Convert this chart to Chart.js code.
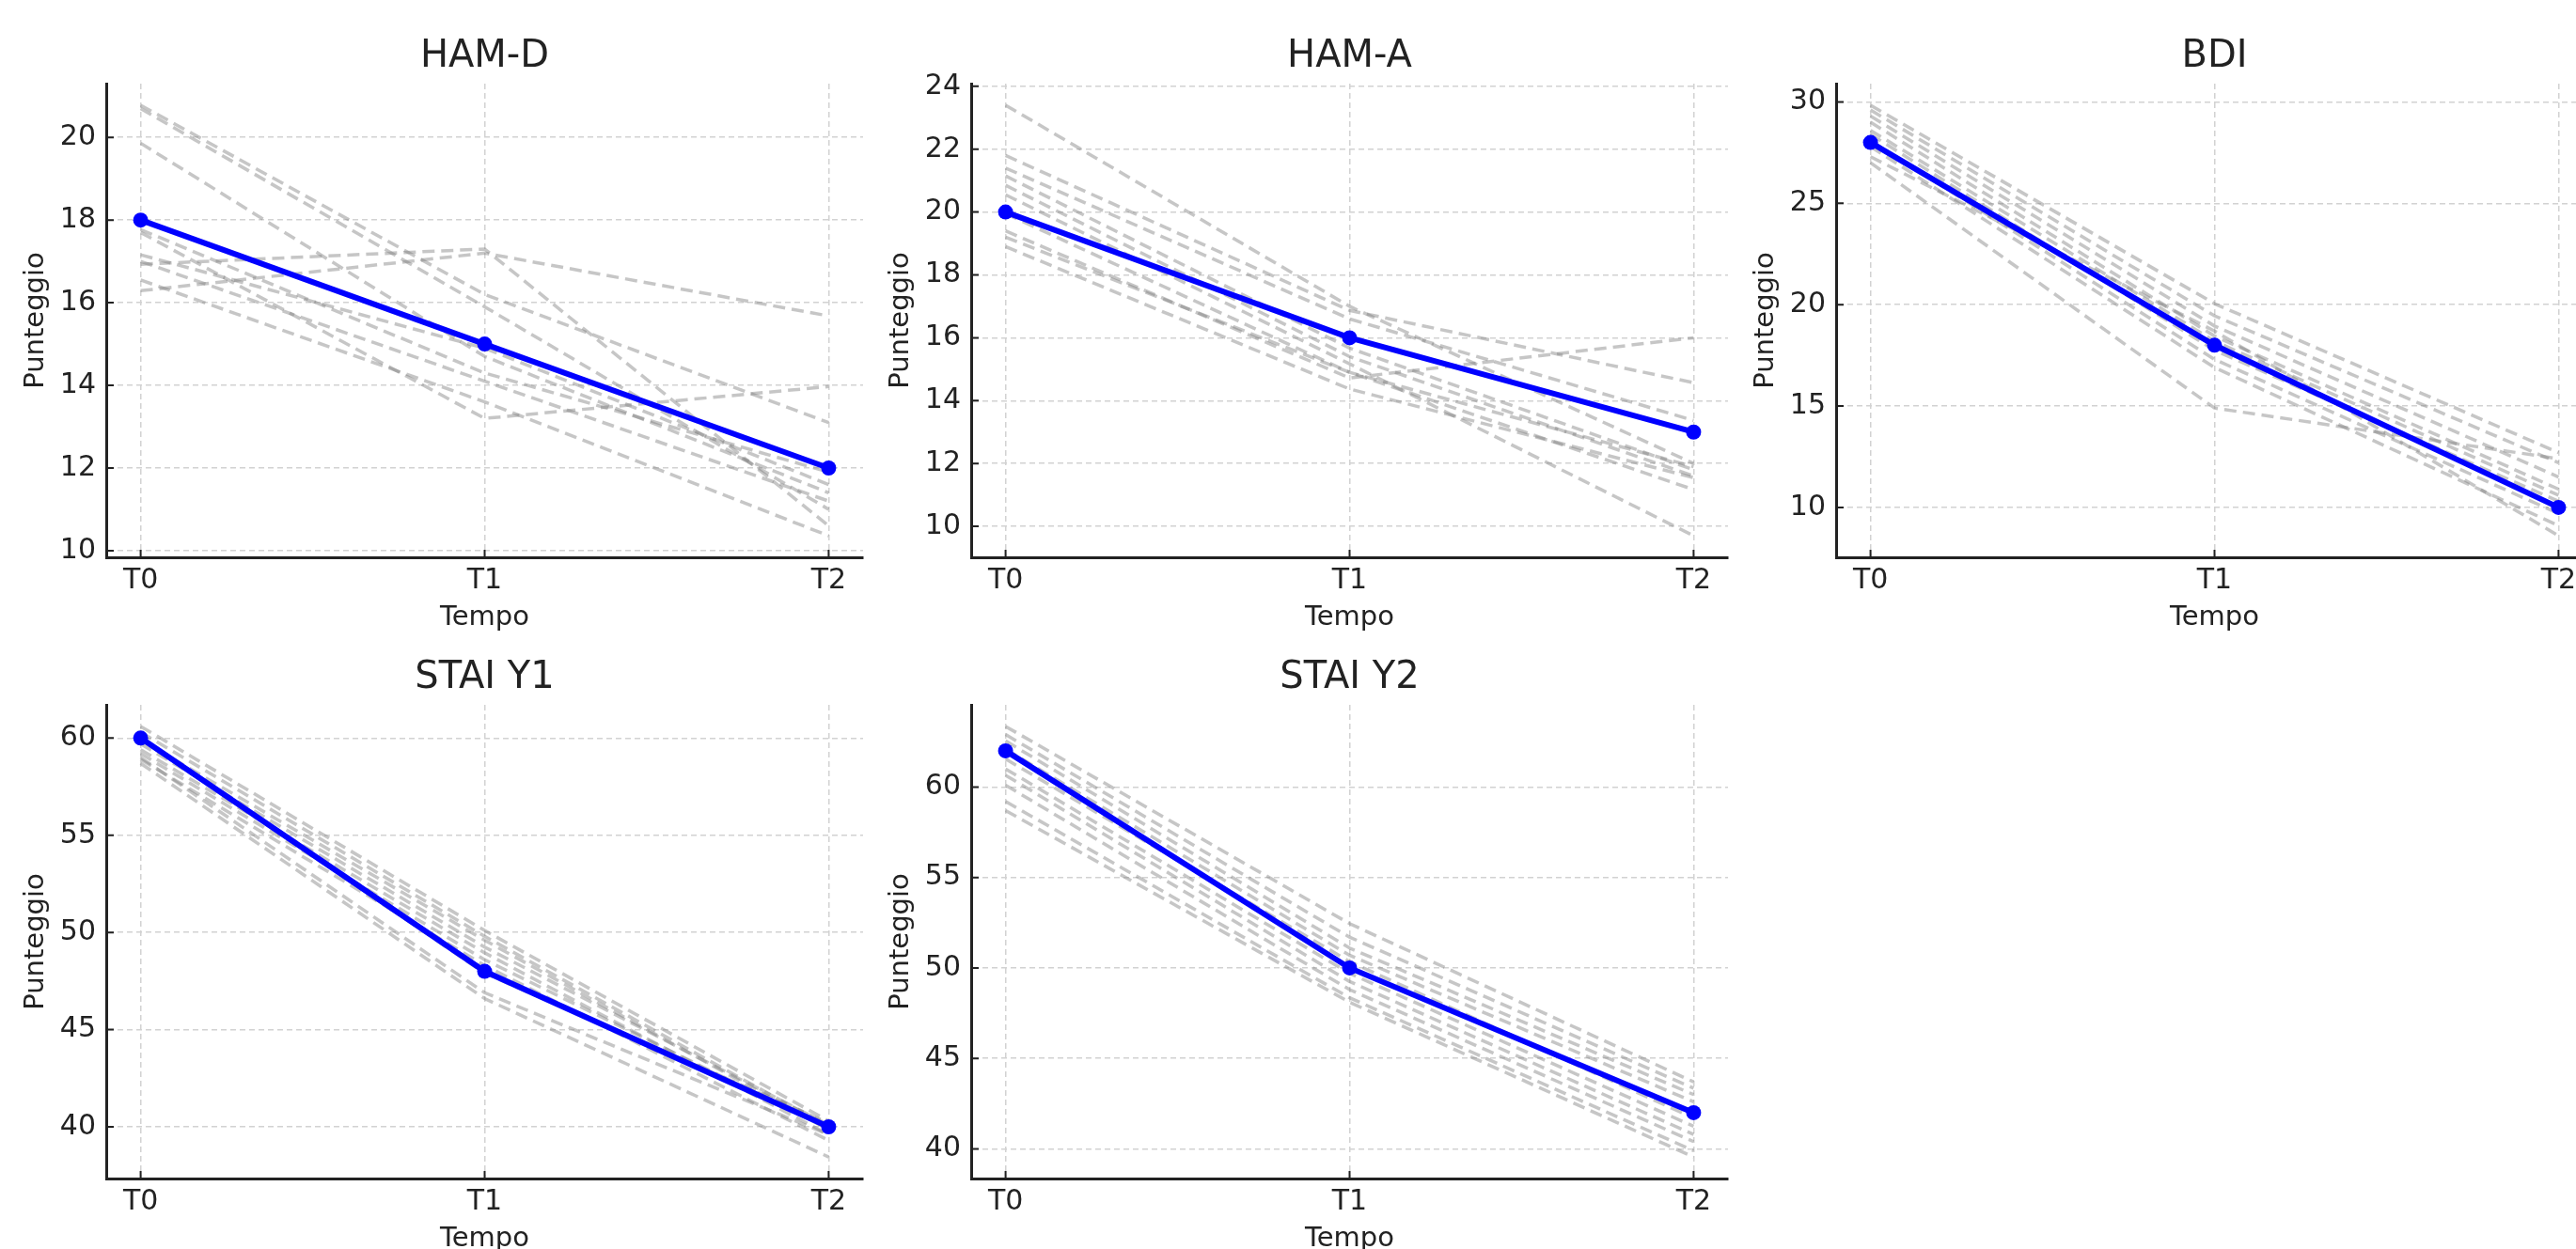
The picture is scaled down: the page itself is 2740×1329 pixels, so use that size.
<!DOCTYPE html>
<html>
<head>
<meta charset="utf-8">
<script src="https://cdn.jsdelivr.net/npm/chart.js"></script>
<style>
  html, body { margin: 0; padding: 0; background: #fff; overflow: hidden; width: 2740px; height: 1329px; position: relative; }
  canvas { position: absolute; }
</style>
</head>
<body>
<canvas id="hamd" width="926" height="700" style="left:0px;top:0px"></canvas>
<canvas id="hama" width="926" height="700" style="left:920px;top:0px"></canvas>
<canvas id="bdi" width="926" height="700" style="left:1840px;top:0px"></canvas>
<canvas id="stai1" width="926" height="700" style="left:0px;top:661px"></canvas>
<canvas id="stai2" width="926" height="700" style="left:920px;top:661px"></canvas>
<script>
// time points on the x axis
const timepoints = ['T0', 'T1', 'T2'];

// HAM-D
const hamdMean = [18, 15, 12];
const hamdSubjects = [
  [20.78, 16.2, 13.1],
  [20.7, 15.9, 11.0],
  [19.86, 14.7, 11.4],
  [17.77, 14.3, 11.9],
  [17.7, 13.2, 13.97],
  [17.16, 14.9, 11.6],
  [16.93, 17.3, 10.6],
  [16.55, 13.6, 10.36],
  [16.29, 17.2, 15.68],
  [17.0, 14.1, 11.2]
];
const hamdTicks = [10, 12, 14, 16, 18, 20];

// HAM-A
const hamaMean = [20, 16, 13];
const hamaSubjects = [
  [23.4, 17.0, 12.0],
  [21.8, 16.87, 14.57],
  [21.4, 16.6, 13.37],
  [21.15, 15.67, 11.8],
  [20.85, 15.4, 11.6],
  [20.55, 15.17, 9.7],
  [19.95, 14.9, 11.9],
  [19.4, 14.72, 16.0],
  [19.2, 14.9, 11.17],
  [18.9, 14.37, 11.55]
];
const hamaTicks = [10, 12, 14, 16, 18, 20, 22, 24];

// BDI
const bdiMean = [28, 18, 10];
const bdiSubjects = [
  [29.84, 20.05, 12.7],
  [29.6, 19.45, 12.2],
  [29.3, 18.95, 11.5],
  [29.0, 18.45, 10.9],
  [28.6, 18.2, 10.6],
  [28.4, 17.75, 10.3],
  [28.1, 17.3, 9.7],
  [27.8, 16.9, 9.1],
  [27.3, 18.7, 8.6],
  [27.0, 14.9, 12.4]
];
const bdiTicks = [10, 15, 20, 25, 30];

// STAI Y1
const stai1Mean = [60, 48, 40];
const stai1Subjects = [
  [60.6, 50.1, 40.3],
  [60.3, 49.8, 40.0],
  [59.9, 49.6, 39.85],
  [59.7, 49.25, 40.1],
  [59.4, 48.95, 39.6],
  [59.2, 48.6, 39.9],
  [59.0, 46.9, 39.6],
  [58.9, 48.3, 39.3],
  [58.7, 46.6, 38.45],
  [60.0, 47.9, 40.2]
];
const stai1Ticks = [40, 45, 50, 55, 60];

// STAI Y2
const stai2Mean = [62, 50, 42];
const stai2Subjects = [
  [63.35, 52.45, 43.7],
  [62.9, 51.7, 43.35],
  [62.55, 51.1, 43.0],
  [62.1, 50.7, 42.6],
  [61.55, 50.35, 41.7],
  [61.0, 49.7, 41.25],
  [60.65, 49.25, 40.8],
  [60.1, 48.8, 40.4],
  [59.2, 48.35, 39.9],
  [58.7, 48.1, 39.55]
];
const stai2Ticks = [40, 45, 50, 55, 60];

const panels = [
  { id: 'hamd', title: 'HAM-D', mean: hamdMean, subjects: hamdSubjects, ticks: hamdTicks },
  { id: 'hama', title: 'HAM-A', mean: hamaMean, subjects: hamaSubjects, ticks: hamaTicks },
  { id: 'bdi', title: 'BDI', mean: bdiMean, subjects: bdiSubjects, ticks: bdiTicks },
  { id: 'stai1', title: 'STAI Y1', mean: stai1Mean, subjects: stai1Subjects, ticks: stai1Ticks },
  { id: 'stai2', title: 'STAI Y2', mean: stai2Mean, subjects: stai2Subjects, ticks: stai2Ticks }
];

Chart.defaults.font.family = '"DejaVu Sans", sans-serif';
const textColor = '#222222';

// small tick marks pointing into the plot, like the original
const innerTicks = {
  id: 'innerTicks',
  afterDraw(chart) {
    const { ctx, chartArea: a, scales: { x, y } } = chart;
    ctx.save();
    ctx.strokeStyle = textColor;
    ctx.lineWidth = 2;
    ctx.beginPath();
    x.ticks.forEach(t => {
      const px = x.getPixelForValue(t.value);
      ctx.moveTo(px, a.bottom);
      ctx.lineTo(px, a.bottom - 8);
    });
    y.ticks.forEach(t => {
      const py = y.getPixelForValue(t.value);
      ctx.moveTo(a.left, py);
      ctx.lineTo(a.left + 8, py);
    });
    ctx.stroke();
    ctx.restore();
  }
};

const gridOpts = { color: '#d2d2d2', lineWidth: 1.5, drawTicks: false };
const borderOpts = { display: true, color: textColor, width: 3, dash: [6, 4] };

panels.forEach(p => {
  // matplotlib-style 5% margin around the data
  const all = p.subjects.flat().concat(p.mean);
  const lo = Math.min(...all), hi = Math.max(...all);
  const pad = (hi - lo) * 0.05;

  const datasets = [{
    data: p.mean.map((v, i) => ({ x: i, y: v })),
    borderColor: '#0000ff',
    backgroundColor: '#0000ff',
    borderWidth: 6,
    pointRadius: 8,
    pointBorderWidth: 0,
    tension: 0
  }];
  p.subjects.forEach(s => {
    datasets.push({
      data: s.map((v, i) => ({ x: i, y: v })),
      borderColor: 'rgba(128,128,128,0.45)',
      borderWidth: 3.5,
      borderDash: [13, 7],
      pointRadius: 0,
      tension: 0
    });
  });

  new Chart(document.getElementById(p.id), {
    type: 'line',
    data: { datasets: datasets },
    plugins: [innerTicks],
    options: {
      responsive: false,
      animation: false,
      layout: { padding: { top: 0, right: 4, bottom: 0, left: 0 } },
      plugins: {
        legend: { display: false },
        tooltip: { enabled: false },
        title: {
          display: true,
          text: p.title,
          fullSize: false,
          color: textColor,
          font: { size: 40, weight: 'normal' },
          padding: { top: 37, bottom: 4 }
        }
      },
      scales: {
        x: {
          type: 'linear',
          min: -0.1,
          max: 2.1,
          afterBuildTicks: s => { s.ticks = timepoints.map((_, i) => ({ value: i })); },
          afterFit: s => { s.height = 107; },
          ticks: {
            callback: v => timepoints[v],
            color: textColor,
            font: { size: 30 },
            padding: 7,
            autoSkip: false,
            maxRotation: 0
          },
          grid: gridOpts,
          border: borderOpts,
          title: {
            display: true,
            text: 'Tempo',
            color: textColor,
            font: { size: 29 },
            padding: { top: 0, bottom: 25 }
          }
        },
        y: {
          min: lo - pad,
          max: hi + pad,
          afterBuildTicks: s => { s.ticks = p.ticks.map(v => ({ value: v })); },
          afterFit: s => { s.width = 113; },
          ticks: {
            color: textColor,
            font: { size: 30 },
            padding: 11
          },
          grid: gridOpts,
          border: borderOpts,
          title: {
            display: true,
            text: 'Punteggio',
            color: textColor,
            font: { size: 29 },
            padding: { top: 21, bottom: 0 }
          }
        }
      }
    }
  });
});
</script>
</body>
</html>
